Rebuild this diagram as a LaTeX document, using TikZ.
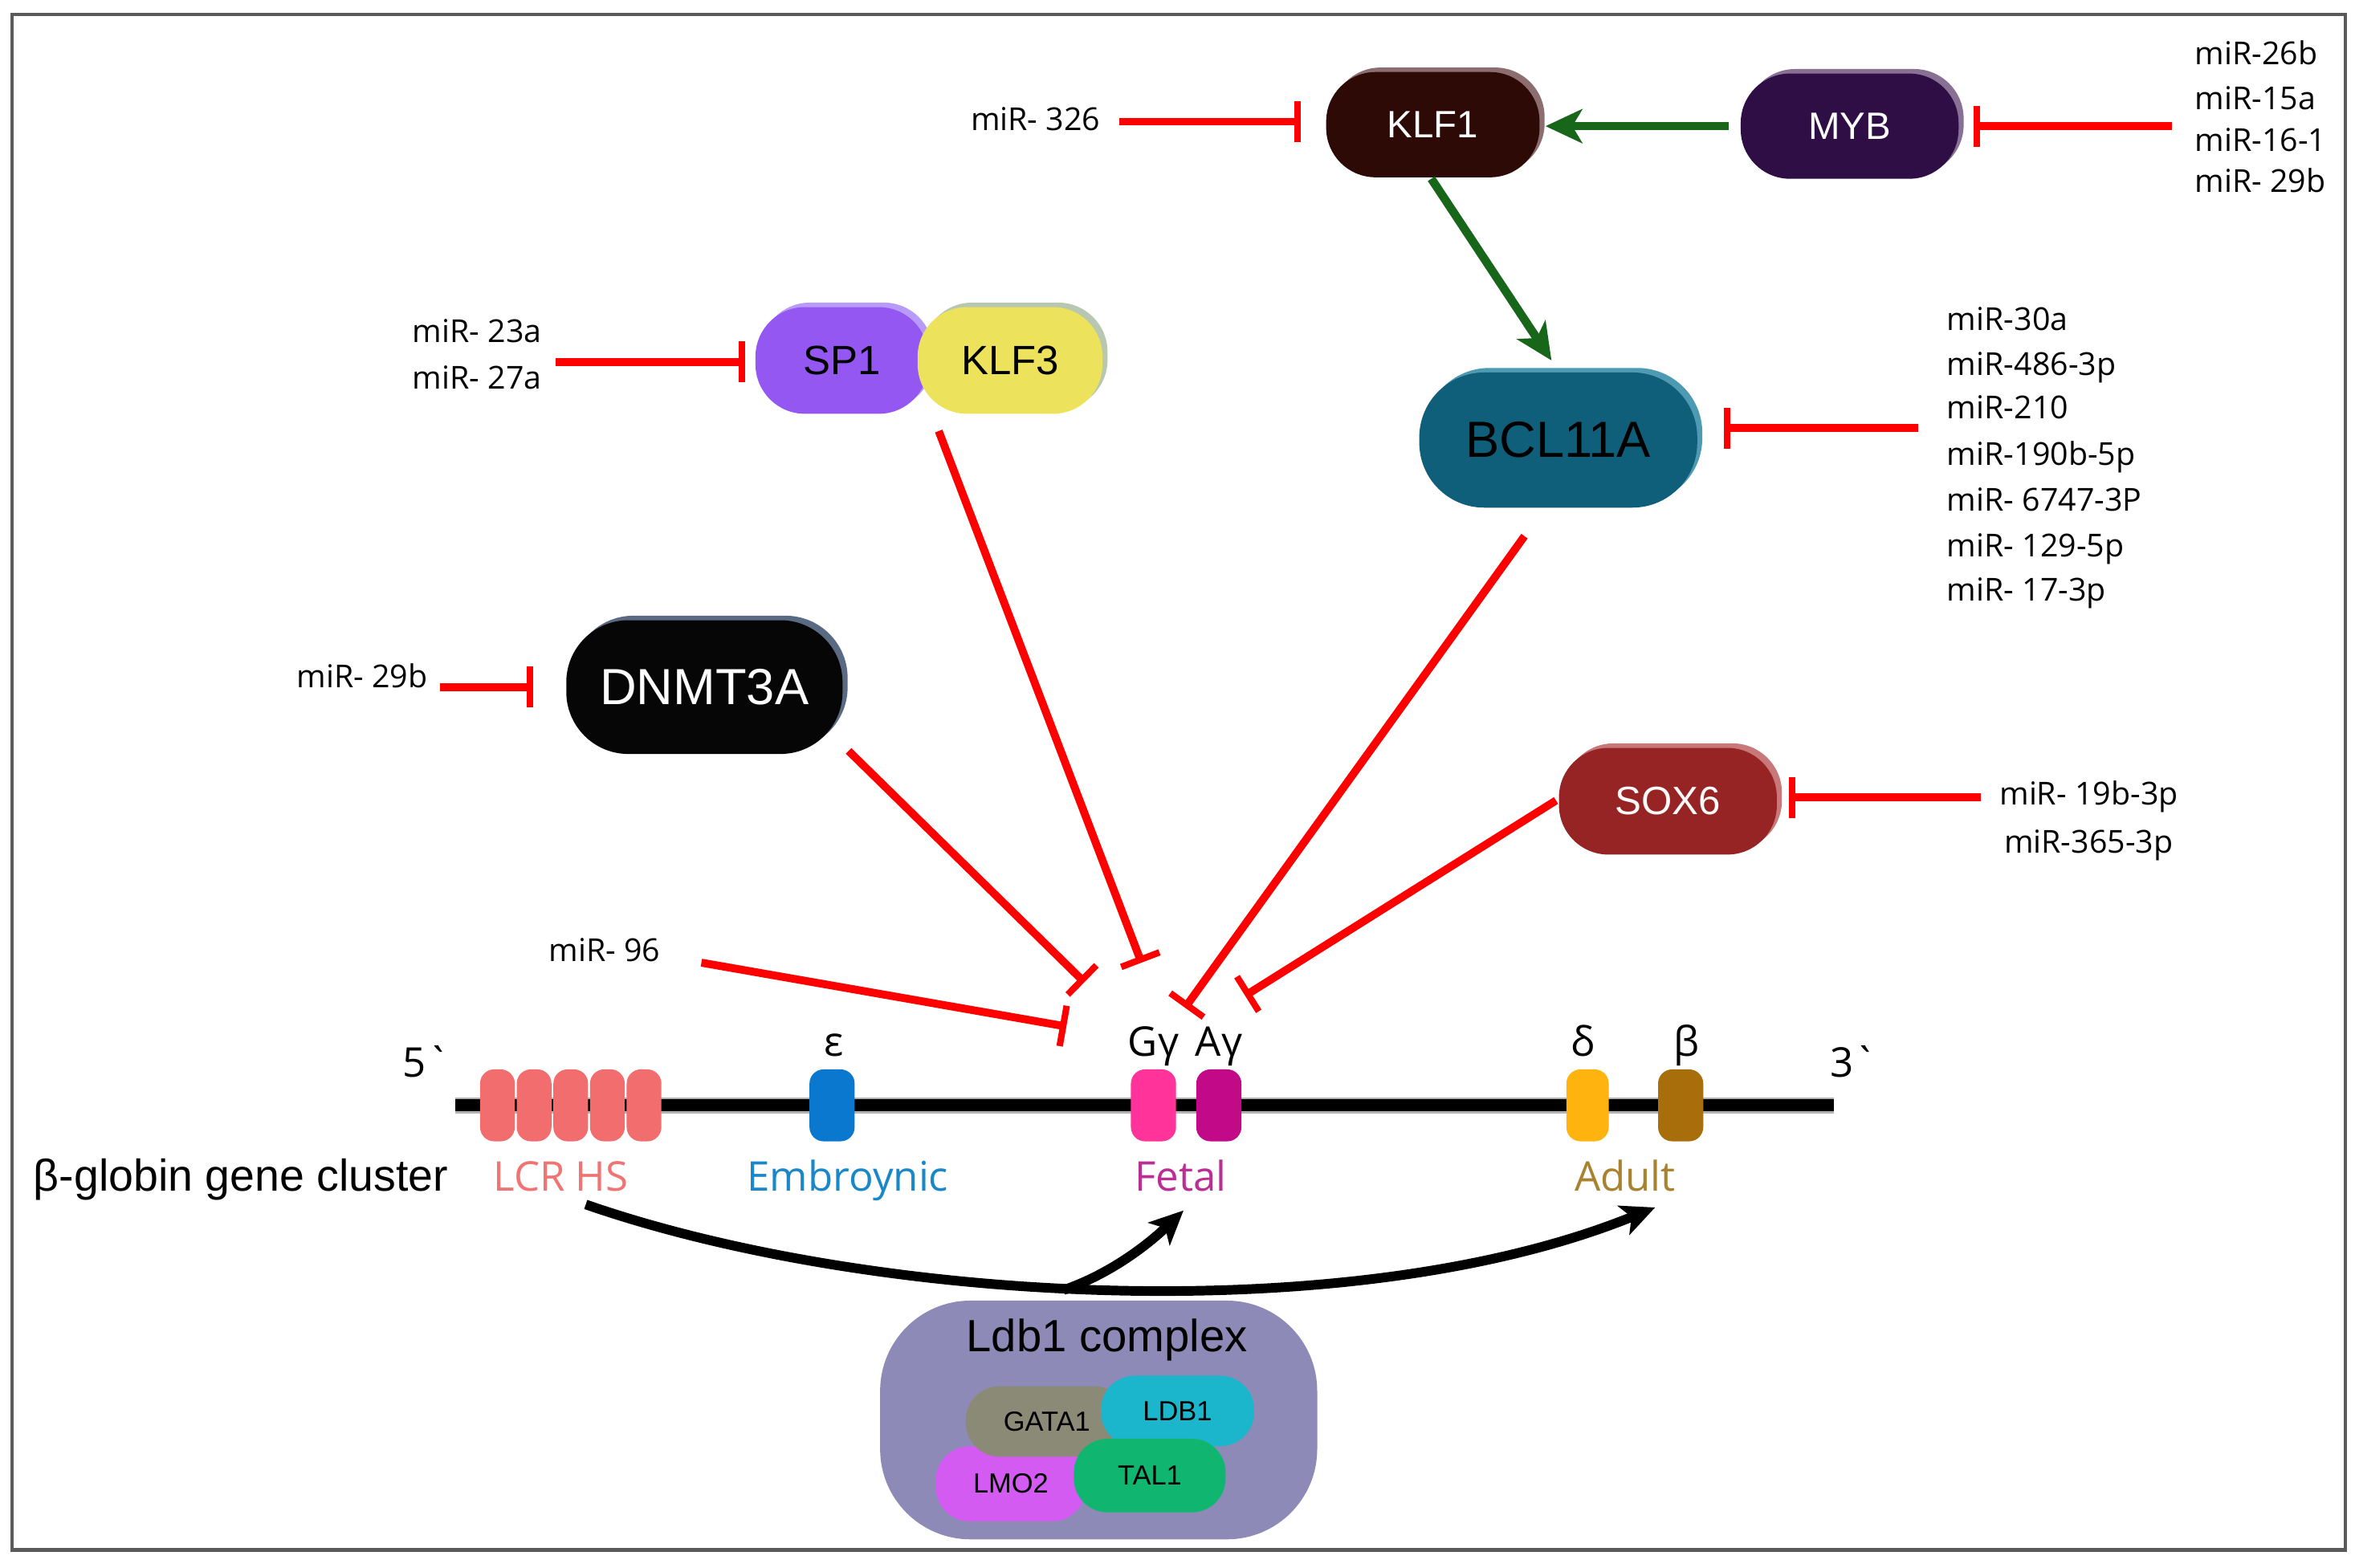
\documentclass[tikz,border=0pt]{standalone}
\usepackage{fontspec}
\setmainfont{Liberation Sans}
\newfontfamily\mirfont{Open Sans}
\usetikzlibrary{arrows.meta,shadows}
\definecolor{inhred}{HTML}{FF0000}
\definecolor{actgreen}{HTML}{17661A}
\definecolor{framec}{HTML}{5A5A5A}
\definecolor{klfc}{HTML}{2E0A06}
\definecolor{klfhl}{HTML}{8C6E70}
\definecolor{mybc}{HTML}{2F0D45}
\definecolor{mybhl}{HTML}{8A7095}
\definecolor{spc}{HTML}{9457F2}
\definecolor{sphl}{HTML}{B89AF8}
\definecolor{klf3c}{HTML}{ECE25C}
\definecolor{klf3hl}{HTML}{B8C8B0}
\definecolor{bclc}{HTML}{0F5F7B}
\definecolor{bclhl}{HTML}{4E9AB2}
\definecolor{dnc}{HTML}{060606}
\definecolor{dnhl}{HTML}{5A6A82}
\definecolor{soxc}{HTML}{962424}
\definecolor{soxhl}{HTML}{C87878}
\definecolor{ldbc}{HTML}{8E8AB7}
\definecolor{gatac}{HTML}{8B8A77}
\definecolor{ldbonec}{HTML}{1BB5CC}
\definecolor{lmoc}{HTML}{D35BF1}
\definecolor{talc}{HTML}{10B66F}
\definecolor{lcrc}{HTML}{F26E6E}
\definecolor{epsc}{HTML}{0A78CE}
\definecolor{ggc}{HTML}{FF3399}
\definecolor{agc}{HTML}{C20A88}
\definecolor{delc}{HTML}{FFB30F}
\definecolor{betc}{HTML}{A86E0C}
\definecolor{lcrt}{HTML}{F07474}
\definecolor{embt}{HTML}{1A88C8}
\definecolor{fett}{HTML}{BA2E96}
\definecolor{adt}{HTML}{A8822E}
\begin{document}
\begin{tikzpicture}[x=0.018706cm, y=-0.018706cm,
  protein/.style={rectangle, inner sep=0pt, draw=none},
  hl/.style={copy shadow={shadow xshift=1.8pt, shadow yshift=1.6pt, fill=#1, draw=none}},
  mir/.style={font=\mirfont\fontsize{11.2pt}{13pt}\selectfont, inner sep=0pt},
  genelab/.style={font=\mirfont\fontsize{14.5pt}{16pt}\selectfont, inner sep=0pt},
  gene/.style={rectangle, rounded corners=5pt, inner sep=0pt, minimum height=25.5pt, draw=none},
  sub/.style={rectangle, rounded corners=12pt, inner sep=0pt, draw=none, font=\fontsize{9.8pt}{11pt}\selectfont},
  inh/.style={draw=inhred, line width=2.8pt, -{Bar[width=14.5pt, line width=2.3pt]}},
  act/.style={draw=actgreen, line width=3pt, -{Stealth[length=13pt, width=12pt, inset=3.5pt]}},
  blk/.style={draw=black, line width=3.4pt, -{Stealth[length=12pt, width=11pt, inset=3pt]}}
]
\fill[white] (0,0) rectangle (1568,1044);
\useasboundingbox (0,0) rectangle (1568,1044);
\draw[framec, line width=1.2pt] (8,9.6) rectangle (1561.5,1032);

% ---------- proteins ----------
\node[protein, hl=klfhl, fill=klfc, rounded corners=17.5pt, minimum width=75.6pt, minimum height=37.3pt, text=white, font=\fontsize{13.5pt}{15pt}\selectfont] (klf1) at (954,83) {KLF1};
\node[protein, hl=mybhl, fill=mybc, rounded corners=17.5pt, minimum width=77.2pt, minimum height=37.3pt, text=white, font=\fontsize{13.5pt}{15pt}\selectfont] (myb) at (1231.5,84) {MYB};
\node[protein, hl=sphl, fill=spc, rounded corners=17.5pt, minimum width=61.2pt, minimum height=37.8pt, font=\fontsize{14.5pt}{16pt}\selectfont] (sp1) at (560.5,240) {SP1};
\node[protein, hl=klf3hl, fill=klf3c, rounded corners=17.5pt, minimum width=65.5pt, minimum height=37.8pt, font=\fontsize{14.5pt}{16pt}\selectfont] (klf3) at (672.5,240) {KLF3};
\node[protein, hl=bclhl, fill=bclc, rounded corners=23pt, minimum width=98.5pt, minimum height=47.9pt, font=\fontsize{18pt}{20pt}\selectfont] (bcl) at (1037.5,293) {BCL11A};
\node[protein, hl=dnhl, fill=dnc, rounded corners=22pt, minimum width=97.9pt, minimum height=47.4pt, text=white, font=\fontsize{18pt}{20pt}\selectfont] (dnmt) at (469,457.5) {DNMT3A};
\node[protein, hl=soxhl, fill=soxc, rounded corners=17.5pt, minimum width=77.2pt, minimum height=37.8pt, text=white!92!pink, font=\fontsize{14pt}{16pt}\selectfont] (sox6) at (1110.5,533.5) {SOX6};

% ---------- miRNA labels ----------
\node[mir, anchor=base west] (m326) at (646,87) {miR- 326};
\node[mir, anchor=base west] (m26b) at (1461,43) {miR-26b};
\node[mir, anchor=base west] (m15a) at (1461,73) {miR-15a};
\node[mir, anchor=base west] (m161) at (1461,101) {miR-16-1};
\node[mir, anchor=base west] (m29bb) at (1461,128) {miR- 29b};
\node[mir, anchor=base west] (m30a) at (1296,220) {miR-30a};
\node[mir, anchor=base west] (m486) at (1296,250) {miR-486-3p};
\node[mir, anchor=base west] (m210) at (1296,279) {miR-210};
\node[mir, anchor=base west] (m190) at (1296,310) {miR-190b-5p};
\node[mir, anchor=base west] (m6747) at (1296,340) {miR- 6747-3P};
\node[mir, anchor=base west] (m129) at (1296,371) {miR- 129-5p};
\node[mir, anchor=base west] (m17) at (1296,400) {miR- 17-3p};
\node[mir, anchor=base east] (m23a) at (361,228) {miR- 23a};
\node[mir, anchor=base east] (m27a) at (361,259) {miR- 27a};
\node[mir, anchor=base east] (m29b) at (285,458) {miR- 29b};
\node[mir, anchor=base west] (m96) at (365,640) {miR- 96};
\node[mir, anchor=base west] (m19b) at (1331,536) {miR- 19b-3p};
\node[mir, anchor=base west] (m365) at (1334,568) {miR-365-3p};

% ---------- gene cluster ----------
\draw[line width=5.6pt, gray!60] (303,736) -- (1221,736);
\draw[line width=4.4pt, black] (303,736) -- (1221,736);
\foreach \gx [count=\gi] in {331.2,355.6,380,404.4,428.8}
  \node[gene, fill=lcrc, minimum width=12.3pt] (hs\gi) at (\gx,736) {};
\node[gene, fill=epsc, minimum width=16pt] (geps) at (554,736) {};
\node[gene, fill=ggc, minimum width=16pt] (ggam) at (768,736) {};
\node[gene, fill=agc, minimum width=16pt] (agam) at (811.5,736) {};
\node[gene, fill=delc, minimum width=15pt] (gdel) at (1057,736) {};
\node[gene, fill=betc, minimum width=16pt] (gbet) at (1119,736) {};

\node[genelab, anchor=base] (l5) at (284,717) {5\textasciigrave};
\node[genelab, anchor=base] (l3) at (1234,717) {3\textasciigrave};
\node[genelab, anchor=base] (leps) at (555,703) {ε};
\node[genelab, anchor=base] (lgg) at (768,703) {Gγ};
\node[genelab, anchor=base] (lag) at (811.5,703) {Aγ};
\node[genelab, anchor=base] (ldel) at (1054,703) {δ};
\node[genelab, anchor=base] (lbet) at (1123,703) {β};

\node[anchor=base west, inner sep=0pt, font=\fontsize{15.8pt}{17pt}\selectfont] (cluster) at (22,793) {β-globin gene cluster};
\node[genelab, anchor=base, text=lcrt] (llcr) at (373.5,793) {LCR HS};
\node[genelab, anchor=base, text=embt] (lemb) at (564.5,793) {Embroynic};
\node[genelab, anchor=base, text=fett] (lfet) at (786,793) {Fetal};
\node[genelab, anchor=base, text=adt] (ladu) at (1082,793) {Adult};

% ---------- Ldb1 complex ----------
\node[protein, fill=ldbc, rounded corners=32pt, minimum width=154.9pt, minimum height=84.6pt] (ldbcx) at (731.5,945.5) {};
\node[anchor=base, inner sep=0pt, font=\fontsize{16pt}{18pt}\selectfont] (ldblab) at (737,900) {Ldb1 complex};
\node[sub, fill=lmoc, minimum width=53.2pt, minimum height=26.6pt] (lmo2) at (673,988) {LMO2};
\node[sub, fill=gatac, minimum width=57.5pt, minimum height=25pt] (gata1) at (697,946.5) {GATA1};
\node[sub, fill=ldbonec, minimum width=54.3pt, minimum height=25pt] (ldb1) at (784,939.5) {LDB1};
\node[sub, fill=talc, minimum width=53.8pt, minimum height=26.1pt] (tal1) at (765.5,982.5) {TAL1};

% ---------- connector end points ----------
\coordinate (c326a) at (745,81);   \coordinate (c326b) at (866,81);
\coordinate (cmyba) at (1446,84);  \coordinate (cmybb) at (1314,84);
\coordinate (gmyb) at (1151,84);   \coordinate (gklf) at (1029,84);
\coordinate (gklfb) at (953,119);  \coordinate (gbcl) at (1033,240);
\coordinate (cbcla) at (1277,285); \coordinate (cbclb) at (1148,285);
\coordinate (cspa) at (370,241);   \coordinate (cspb) at (496,241);
\coordinate (cdna) at (293,457.5); \coordinate (cdnb) at (355,457.5);
\coordinate (csoxa) at (1319,531); \coordinate (csoxb) at (1191,531);
\coordinate (f96a) at (467,641);   \coordinate (f96b) at (710,683.5);
\coordinate (fdna) at (565,500);   \coordinate (fdnb) at (722,654);
\coordinate (fspa) at (625,287);   \coordinate (fspb) at (760,641);
\coordinate (fbcla) at (1015,357); \coordinate (fbclb) at (789,671);
\coordinate (fsoxa) at (1036,533); \coordinate (fsoxb) at (829,663);
\coordinate (lcrout) at (390,802); \coordinate (adultin) at (1102,804);
\coordinate (ldbtop) at (708,859); \coordinate (fetalin) at (788,806);

% ---------- connectors ----------
\draw[inh] (c326a) -- (c326b);
\draw[inh] (cmyba) -- (cmybb);
\draw[act] (gmyb) -- (gklf);
\draw[act] (gklfb) -- (gbcl);
\draw[inh] (cbcla) -- (cbclb);
\draw[inh] (cspa) -- (cspb);
\draw[inh] (cdna) -- (cdnb);
\draw[inh] (csoxa) -- (csoxb);
\draw[inh] (f96a) -- (f96b);
\draw[inh] (fdna) -- (fdnb);
\draw[inh] (fspa) -- (fspb);
\draw[inh] (fbcla) -- (fbclb);
\draw[inh] (fsoxa) -- (fsoxb);
\draw[blk] (lcrout) .. controls (580,868) and (900,886) .. (adultin);
\draw[blk] (ldbtop) .. controls (740,848) and (765,828) .. (fetalin);
\end{tikzpicture}
\end{document}
